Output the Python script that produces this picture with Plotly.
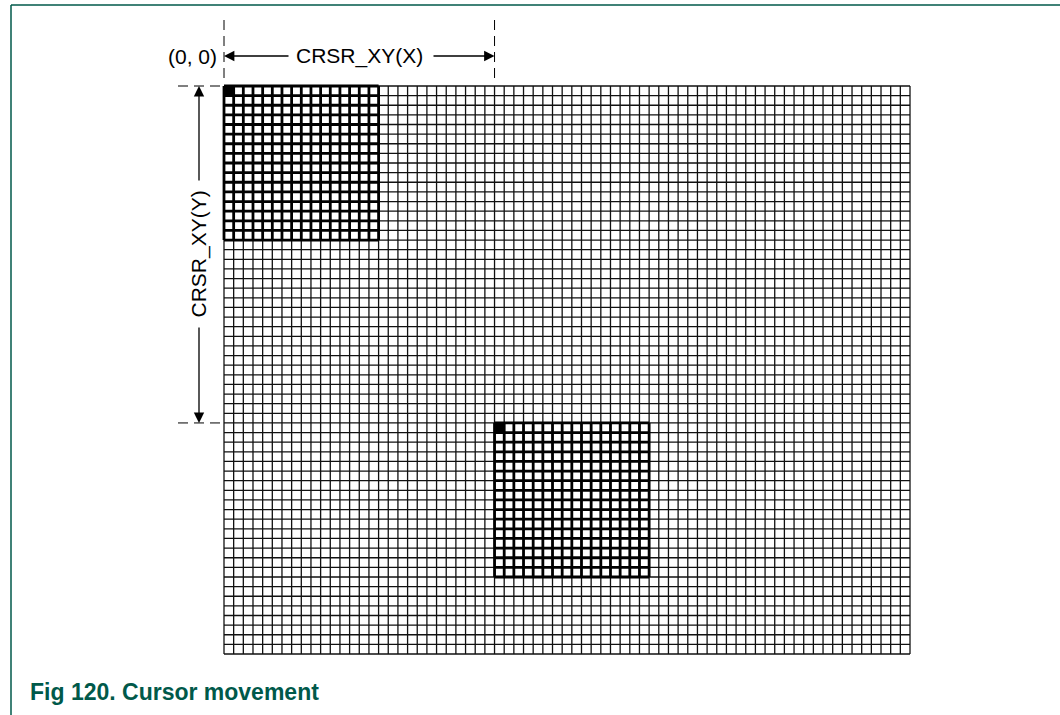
import plotly.graph_objects as go

# ---- data (in cell units) ----
grid_cols = 71
grid_rows = 59
cursor_size = 16
cursor_cols = [0, 28]          # cursor top-left column
cursor_rows = [0, 35]          # cursor top-left row
origin_label = "(0, 0)"
x_label = "CRSR_XY(X)"
y_label = "CRSR_XY(Y)"
caption = "Fig 120. Cursor movement"

# ---- layout geometry (pixels) ----
W, H = 1060, 715
gx0, gx1 = 224, 910
gy0, gy1 = 86, 654
sx = (gx1 - gx0) / grid_cols
sy = (gy1 - gy0) / grid_rows
def px2x(p):
    return (p - gx0) / sx
def py2y(p):
    return (p - gy0) / sy

GREEN = "#00594A"
FONT = "Liberation Sans, Arial, sans-serif"

fig = go.Figure()

# thin grid
xs, ys = [], []
for c in range(grid_cols + 1):
    xs += [c, c, None]
    ys += [0, grid_rows, None]
for r in range(grid_rows + 1):
    xs += [0, grid_cols, None]
    ys += [r, r, None]
fig.add_trace(go.Scatter(x=xs, y=ys, mode="lines",
                         line=dict(color="#111111", width=1.3), hoverinfo="skip"))

# cursors
for cc, cr in zip(cursor_cols, cursor_rows):
    fig.add_trace(go.Scatter(x=[cc, cc + 1, cc + 1, cc, cc], y=[cr, cr, cr + 1, cr + 1, cr],
                             mode="lines", fill="toself", fillcolor="black",
                             line=dict(color="black", width=1), hoverinfo="skip"))
    xs, ys = [], []
    for k in range(cursor_size + 1):
        xs += [cc + k, cc + k, None]
        ys += [cr, cr + cursor_size, None]
        xs += [cc, cc + cursor_size, None]
        ys += [cr + k, cr + k, None]
    fig.add_trace(go.Scatter(x=xs, y=ys, mode="lines",
                             line=dict(color="black", width=2.8), hoverinfo="skip"))

# dashed extension lines
dash = "10px,6px"
xc, yc = cursor_cols[1], cursor_rows[1]
for xv in [0, xc]:
    fig.add_trace(go.Scatter(x=[xv, xv], y=[py2y(20), py2y(82)], mode="lines",
                             line=dict(color="black", width=1, dash=dash), hoverinfo="skip"))
for yv in [0, yc]:
    fig.add_trace(go.Scatter(x=[px2x(178), px2x(222)], y=[yv, yv], mode="lines",
                             line=dict(color="black", width=1, dash=dash), hoverinfo="skip"))

annotations = []
arrow_y = py2y(56)
arrow_x = px2x(199)
def arrow(x, y, axv, ayv):
    return dict(x=x, y=y, ax=axv, ay=ayv, xref="x", yref="y", axref="x", ayref="y",
                showarrow=True, arrowhead=2, arrowsize=1.6, arrowwidth=1.3,
                arrowcolor="black", text="", standoff=0)

annotations.append(arrow(0, arrow_y, px2x(290), arrow_y))
annotations.append(arrow(xc, arrow_y, px2x(432), arrow_y))
annotations.append(arrow(arrow_x, 0, arrow_x, py2y(182)))
annotations.append(arrow(arrow_x, yc, arrow_x, py2y(326)))

annotations.append(dict(x=xc / 2, y=arrow_y, xref="x", yref="y", text=x_label,
                        showarrow=False, font=dict(family=FONT, size=21, color="black")))
annotations.append(dict(x=arrow_x, y=yc / 2, xref="x", yref="y", text=y_label, textangle=-90,
                        showarrow=False, font=dict(family=FONT, size=21, color="black")))
annotations.append(dict(x=px2x(219), y=arrow_y, xref="x", yref="y", text=origin_label,
                        xanchor="right", showarrow=False,
                        font=dict(family=FONT, size=21, color="black")))
annotations.append(dict(x=28 / W, y=1 - 692 / H, xref="paper", yref="paper", text="<b>" + caption + "</b>",
                        xanchor="left", yanchor="middle", showarrow=False,
                        font=dict(family=FONT, size=23, color=GREEN)))

shapes = [
    dict(type="line", xref="paper", yref="paper", x0=11 / W, x1=1, y0=1 - 5 / H, y1=1 - 5 / H,
         line=dict(color=GREEN, width=1.5)),
    dict(type="line", xref="paper", yref="paper", x0=11 / W, x1=11 / W, y0=0, y1=1 - 5 / H,
         line=dict(color=GREEN, width=1.5)),
]

fig.update_layout(
    width=W, height=H, margin=dict(l=0, r=0, t=0, b=0),
    paper_bgcolor="white", plot_bgcolor="white", showlegend=False,
    xaxis=dict(range=[px2x(0), px2x(W)], visible=False, fixedrange=True),
    yaxis=dict(range=[py2y(H), py2y(0)], visible=False, fixedrange=True),
    annotations=annotations, shapes=shapes,
)

fig.write_html("out.html", config={"displayModeBar": False},
               post_script="document.body.style.margin='0';document.body.style.overflow='hidden';")
